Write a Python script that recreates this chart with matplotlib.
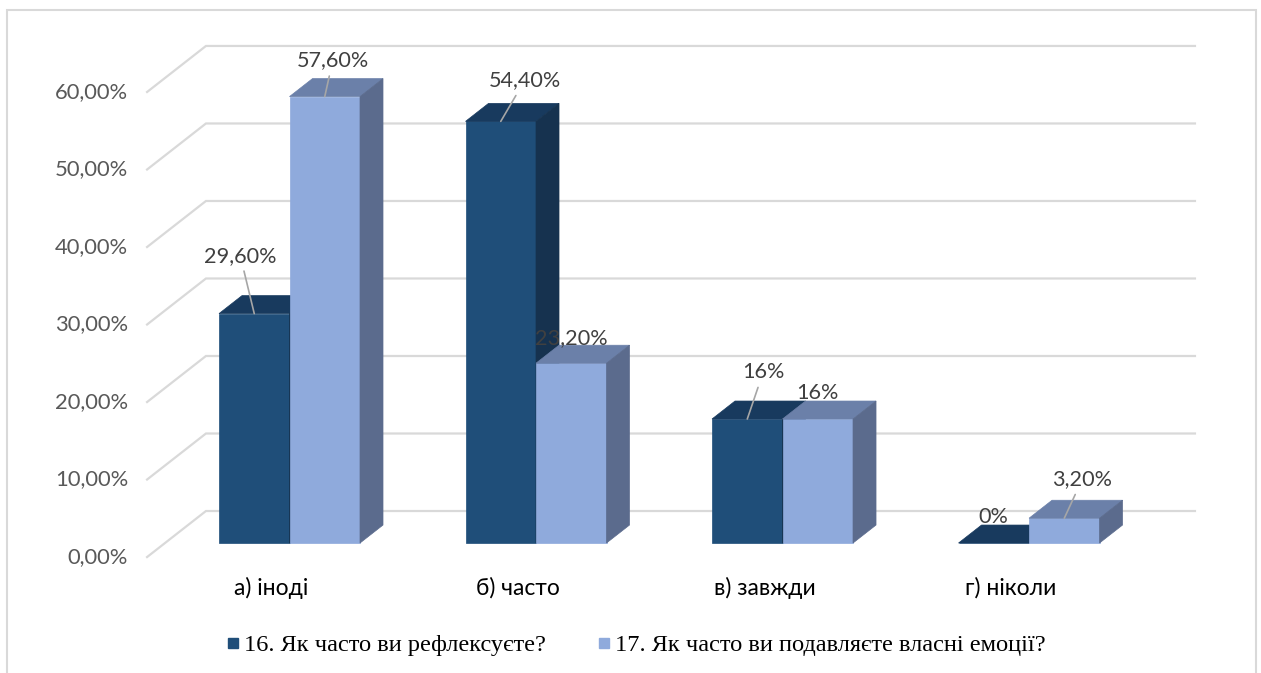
import matplotlib

matplotlib.use("Agg")
import matplotlib.pyplot as plt
from matplotlib.lines import Line2D
from matplotlib.patches import Polygon, Rectangle

categories = ["а) іноді", "б) часто", "в) завжди", "г) ніколи"]
series_names = [
    "16. Як часто ви рефлексуєте?",
    "17. Як часто ви подавляєте власні емоції?",
]
reflect = [29.6, 54.4, 16.0, 0.0]
suppress = [57.6, 23.2, 16.0, 3.2]
reflect_labels = ["29,60%", "54,40%", "16%", "0%"]
suppress_labels = ["57,60%", "23,20%", "16%", "3,20%"]
y_ticks = [0, 10, 20, 30, 40, 50, 60]
y_tick_labels = ["0,00%", "10,00%", "20,00%", "30,00%", "40,00%", "50,00%", "60,00%"]

# label offsets from the bar's top-front centre, in pixels (moved labels get a leader)
reflect_offsets = [(-14, 58), (24, 41), (16, 47), (0, 26)]
suppress_offsets = [(8, 36), (0, 25), (0, 26), (18, 39)]

# faces: front, top, side
DARK = ("#1F4E79", "#183A5E", "#16324F")
LIGHT = ("#8FAADC", "#6B80A9", "#5B6B8D")

BAR_W = 0.286
DX, DY = 0.0933, 2.32          # oblique depth of one bar
T_FRONT, T_BACK = -0.78, 1.78  # floor front edge / back wall, in bar depths
X_LEFT, X_RIGHT = -0.505, 3.507
GRID = "#D9D9D9"

plt.rcParams["font.family"] = ["Lato", "DejaVu Sans"]

fig = plt.figure(figsize=(12.61, 6.73), dpi=100)
ax = fig.add_axes([0, 0, 1, 1])
ax.set_xlim(-1.1744, 3.941)
ax.set_ylim(-16.77, 70.06)
ax.axis("off")

# chart area border
fig.patches.append(
    Rectangle((7 / 1261, -0.05), 1249 / 1261, 1.05 - 10 / 673,
              transform=fig.transFigure, fill=False, edgecolor="#D9D9D9", lw=1.5)
)

# side wall and back wall gridlines
for v, lab in zip(y_ticks, y_tick_labels):
    xf, yf = X_LEFT + T_FRONT * DX, v + T_FRONT * DY
    xb, yb = X_LEFT + T_BACK * DX, v + T_BACK * DY
    xr = X_RIGHT + T_BACK * DX
    ax.plot([xf, xb, xr], [yf, yb, yb], color=GRID, lw=1.6, zorder=1,
            solid_joinstyle="miter")
    ax.annotate(lab, (xf, yf), xytext=(-19, 0), textcoords="offset pixels",
                ha="right", va="center", fontsize=15.8, color="#595959")


def draw_bar(x0, h, colors):
    front, top, side = colors
    ax.add_patch(Polygon([(x0, 0), (x0 + BAR_W, 0), (x0 + BAR_W, h), (x0, h)],
                         facecolor=front, edgecolor=front, lw=0.5, zorder=2))
    ax.add_patch(Polygon([(x0, h), (x0 + BAR_W, h), (x0 + BAR_W + DX, h + DY),
                          (x0 + DX, h + DY)],
                         facecolor=top, edgecolor=top, lw=0.5, zorder=2))
    ax.add_patch(Polygon([(x0 + BAR_W, 0), (x0 + BAR_W + DX, DY),
                          (x0 + BAR_W + DX, h + DY), (x0 + BAR_W, h)],
                         facecolor=side, edgecolor=side, lw=0.5, zorder=2))


def draw_label(xc, h, text, offset):
    dx, dy = offset
    kw = dict(ha="center", va="center", fontsize=15.6, color="#404040", zorder=5)
    if abs(dx) + abs(dy) > 30:
        ax.annotate(text, (xc, h), xytext=(dx, dy), textcoords="offset pixels",
                    arrowprops=dict(arrowstyle="-", color="#A6A6A6", lw=1.2,
                                    shrinkA=2, shrinkB=0), **kw)
    else:
        ax.annotate(text, (xc, h), xytext=(dx, dy), textcoords="offset pixels", **kw)


for i, cat in enumerate(categories):
    draw_bar(i - BAR_W, reflect[i], DARK)
    draw_bar(i, suppress[i], LIGHT)
    draw_label(i - BAR_W / 2, reflect[i], reflect_labels[i], reflect_offsets[i])
    draw_label(i + BAR_W / 2, suppress[i], suppress_labels[i], suppress_offsets[i])
    ax.annotate(cat, (i + T_FRONT * DX, T_FRONT * DY), xytext=(0, -31),
                textcoords="offset pixels", ha="center", va="center",
                fontsize=16.5, color="#000000")

handles = [
    Line2D([], [], ls="none", marker="s", markersize=7.5, color=DARK[0]),
    Line2D([], [], ls="none", marker="s", markersize=7.5, color=LIGHT[0]),
]
fig.legend(handles, series_names, loc="center", bbox_to_anchor=(0.504, 0.041),
           ncol=2, frameon=False, handlelength=0.6, handletextpad=0.15,
           columnspacing=2.05, prop={"family": "Liberation Serif", "size": 17.6})

fig.savefig("out.png", dpi=100)
